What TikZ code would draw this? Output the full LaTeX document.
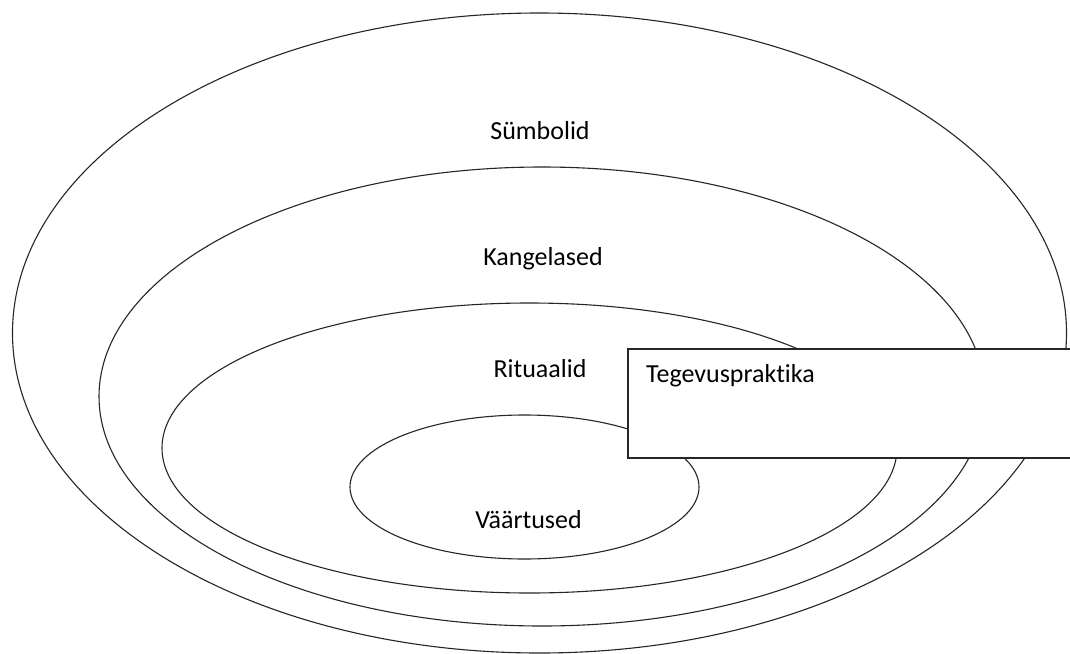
\documentclass[tikz,border=0pt]{standalone}
\usepackage{fontspec}
\setmainfont{Carlito}[Ligatures=NoCommon]
\begin{document}
\begin{tikzpicture}[x=1pt,y=-1pt,
  ring/.style={draw=black!85,line width=1.1pt},
  lbl/.style={font=\fontsize{26}{30}\selectfont,text=black,inner sep=0pt},
  boxstyle/.style={draw=black!85,line width=1.1pt,fill=white}]
\useasboundingbox (0,0) rectangle (1070,653);
\fill[white] (0,0) rectangle (1070,653);
\draw[ring] (539.5,333) ellipse [x radius=527, y radius=320];
\draw[ring] (542,396.5) ellipse [x radius=443, y radius=229.5];
\draw[ring] (529.5,448) ellipse [x radius=367.5, y radius=145];
\draw[ring] (524.5,487) ellipse [x radius=174.5, y radius=72];
\draw[boxstyle] (628,349) rectangle (1080,458);
\node[lbl] (symb) at (540,131) {Sümbolid};
\node[lbl] (kang) at (543,259) {Kangelased};
\node[lbl] (rit) at (540,369) {Rituaalid};
\node[lbl] (vaar) at (528.5,520) {Väärtused};
\node[lbl,anchor=west] (teg) at (646,376) {Tegevuspraktika};
\end{tikzpicture}
\end{document}
